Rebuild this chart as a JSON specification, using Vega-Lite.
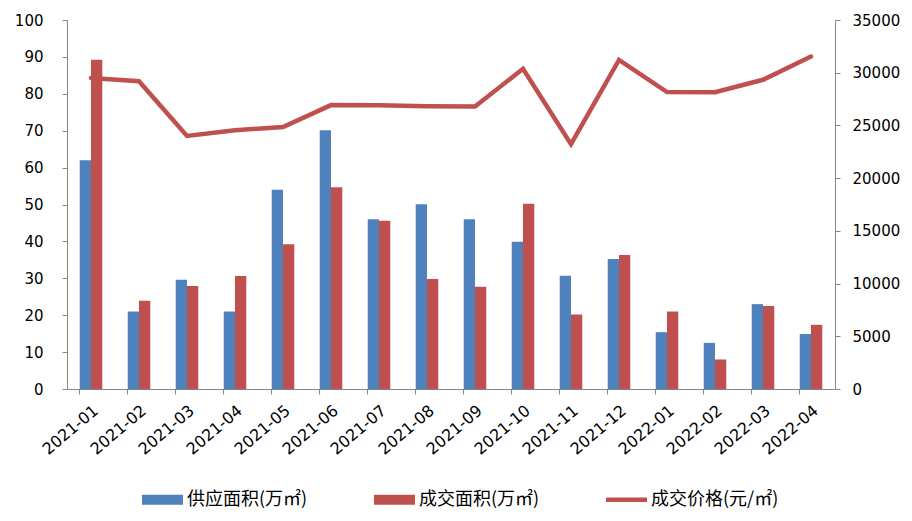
{
  "$schema": "https://vega.github.io/schema/vega-lite/v6.json",
  "width": 768,
  "height": 369,
  "autosize": "none",
  "padding": {"left": 67, "top": 20, "right": 77, "bottom": 132},
  "background": "white",
  "config": {
    "view": {"stroke": null},
    "font": "DejaVu Sans",
    "axis": {"domainColor": "#868686", "tickColor": "#868686", "labelColor": "#000000", "grid": false, "title": null, "labelFont": "DejaVu Sans", "labelFontSize": 15, "tickSize": 5}
  },
  "data": {
    "values": [
      {"month": "2021-01", "series": "供应面积(万㎡)", "value": 62},
      {"month": "2021-02", "series": "供应面积(万㎡)", "value": 21},
      {"month": "2021-03", "series": "供应面积(万㎡)", "value": 29.6},
      {"month": "2021-04", "series": "供应面积(万㎡)", "value": 21},
      {"month": "2021-05", "series": "供应面积(万㎡)", "value": 54},
      {"month": "2021-06", "series": "供应面积(万㎡)", "value": 70.1},
      {"month": "2021-07", "series": "供应面积(万㎡)", "value": 46},
      {"month": "2021-08", "series": "供应面积(万㎡)", "value": 50.1},
      {"month": "2021-09", "series": "供应面积(万㎡)", "value": 46},
      {"month": "2021-10", "series": "供应面积(万㎡)", "value": 39.9},
      {"month": "2021-11", "series": "供应面积(万㎡)", "value": 30.7},
      {"month": "2021-12", "series": "供应面积(万㎡)", "value": 35.2},
      {"month": "2022-01", "series": "供应面积(万㎡)", "value": 15.4},
      {"month": "2022-02", "series": "供应面积(万㎡)", "value": 12.5},
      {"month": "2022-03", "series": "供应面积(万㎡)", "value": 23},
      {"month": "2022-04", "series": "供应面积(万㎡)", "value": 14.9},
      {"month": "2021-01", "series": "成交面积(万㎡)", "value": 89.2},
      {"month": "2021-02", "series": "成交面积(万㎡)", "value": 23.9},
      {"month": "2021-03", "series": "成交面积(万㎡)", "value": 27.9},
      {"month": "2021-04", "series": "成交面积(万㎡)", "value": 30.6},
      {"month": "2021-05", "series": "成交面积(万㎡)", "value": 39.2},
      {"month": "2021-06", "series": "成交面积(万㎡)", "value": 54.7},
      {"month": "2021-07", "series": "成交面积(万㎡)", "value": 45.6},
      {"month": "2021-08", "series": "成交面积(万㎡)", "value": 29.8},
      {"month": "2021-09", "series": "成交面积(万㎡)", "value": 27.7},
      {"month": "2021-10", "series": "成交面积(万㎡)", "value": 50.2},
      {"month": "2021-11", "series": "成交面积(万㎡)", "value": 20.2},
      {"month": "2021-12", "series": "成交面积(万㎡)", "value": 36.3},
      {"month": "2022-01", "series": "成交面积(万㎡)", "value": 21},
      {"month": "2022-02", "series": "成交面积(万㎡)", "value": 8},
      {"month": "2022-03", "series": "成交面积(万㎡)", "value": 22.5},
      {"month": "2022-04", "series": "成交面积(万㎡)", "value": 17.4},
      {"month": "2021-01", "series": "成交价格(元/㎡)", "value": 29500},
      {"month": "2021-02", "series": "成交价格(元/㎡)", "value": 29200},
      {"month": "2021-03", "series": "成交价格(元/㎡)", "value": 24000},
      {"month": "2021-04", "series": "成交价格(元/㎡)", "value": 24550},
      {"month": "2021-05", "series": "成交价格(元/㎡)", "value": 24840},
      {"month": "2021-06", "series": "成交价格(元/㎡)", "value": 26930},
      {"month": "2021-07", "series": "成交价格(元/㎡)", "value": 26920},
      {"month": "2021-08", "series": "成交价格(元/㎡)", "value": 26830},
      {"month": "2021-09", "series": "成交价格(元/㎡)", "value": 26800},
      {"month": "2021-10", "series": "成交价格(元/㎡)", "value": 30370},
      {"month": "2021-11", "series": "成交价格(元/㎡)", "value": 23230},
      {"month": "2021-12", "series": "成交价格(元/㎡)", "value": 31220},
      {"month": "2022-01", "series": "成交价格(元/㎡)", "value": 28160},
      {"month": "2022-02", "series": "成交价格(元/㎡)", "value": 28150},
      {"month": "2022-03", "series": "成交价格(元/㎡)", "value": 29330},
      {"month": "2022-04", "series": "成交价格(元/㎡)", "value": 31540}
    ]
  },
  "encoding": {
    "x": {
      "field": "month",
      "type": "ordinal",
      "scale": {"paddingInner": 0.53, "paddingOuter": 0.265},
      "axis": {"labelAngle": -40, "bandPosition": 0, "labelPadding": 8, "labelAlign": "right", "labelBaseline": "top", "labelFontSize": 16}
    },
    "color": {
      "field": "series",
      "type": "nominal",
      "scale": {"domain": ["供应面积(万㎡)", "成交面积(万㎡)", "成交价格(元/㎡)"], "range": ["#4F81BD", "#C0504D", "#C0504D"]},
      "legend": {
        "title": null,
        "orient": "none",
        "legendX": 75,
        "legendY": 459,
        "direction": "horizontal",
        "columns": 3,
        "columnPadding": 66,
        "labelFont": "Noto Sans CJK SC",
        "labelFontSize": 18,
        "labelColor": "#000000",
        "labelLimit": 300,
        "labelOffset": 4,
        "symbolSize": 1681,
        "symbolStrokeWidth": 0,
        "encode": {
          "symbols": {
            "update": {
              "shape": {"signal": "datum.value === '成交价格(元/㎡)' ? 'M-1,-0.11H1V0.11H-1Z' : 'M-1,-0.244H1V0.244H-1Z'"},
              "fill": {"signal": "datum.value === '供应面积(万㎡)' ? '#4F81BD' : '#C0504D'"},
              "fillOpacity": {"value": 1},
              "strokeWidth": {"value": 0}
            }
          }
        }
      }
    }
  },
  "layer": [
    {
      "transform": [{"filter": "datum.series !== '成交价格(元/㎡)'"}],
      "mark": {"type": "bar"},
      "encoding": {
        "xOffset": {"field": "series", "type": "nominal", "sort": ["供应面积(万㎡)", "成交面积(万㎡)"]},
        "y": {
          "field": "value",
          "type": "quantitative",
          "scale": {"domain": [0, 100], "nice": false},
          "axis": {"orient": "left", "values": [0, 10, 20, 30, 40, 50, 60, 70, 80, 90, 100], "labelPadding": 19}
        }
      }
    },
    {
      "transform": [{"filter": "datum.series === '成交价格(元/㎡)'"}],
      "mark": {"type": "line", "strokeWidth": 4.5, "strokeJoin": "miter", "strokeCap": "round"},
      "encoding": {
        "y": {
          "field": "value",
          "type": "quantitative",
          "scale": {"domain": [0, 35000], "nice": false},
          "axis": {"orient": "right", "values": [0, 5000, 10000, 15000, 20000, 25000, 30000, 35000], "labelPadding": 12, "format": "d"}
        }
      }
    }
  ],
  "resolve": {"scale": {"y": "independent"}}
}
